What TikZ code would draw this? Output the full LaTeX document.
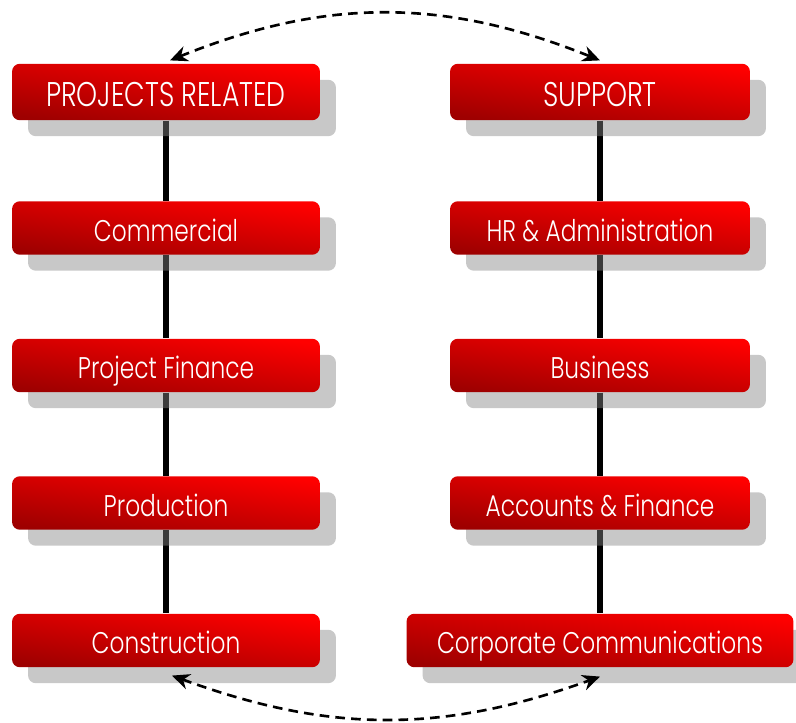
\documentclass[tikz,border=0pt]{standalone}
\usepackage{fontspec}
\setmainfont{Poppins}[UprightFont=* Light, FakeStretch=0.78]
\usetikzlibrary{arrows.meta,shadows,backgrounds}
\tikzset{
  dept/.style={rounded corners=4.5pt, inner sep=0pt, minimum width=6.16cm, minimum height=1.07cm,
    top color=red, bottom color=red!62!black, shading angle=-8, text=white,
    font=\fontsize{17}{20}\selectfont, text height=15.3pt, text depth=0pt,
    drop shadow={shadow xshift=0.32cm, shadow yshift=-0.32cm, fill=black!48, opacity=0.45}},
  head/.style={dept, minimum height=1.13cm, font=\fontsize{19.5}{22}\selectfont, text height=17pt},
  link/.style={line width=3.3pt},
  twoway/.style={line width=1.5pt, dash pattern=on 5.5pt off 3.5pt,
    {Stealth[length=10pt,width=9pt]}-{Stealth[length=10pt,width=9pt]}}
}
\begin{document}
\begin{tikzpicture}[x=0.02cm,y=-0.02cm]
% two columns of departments, coordinates in pixels
\useasboundingbox (0,0) rectangle (796,723);
\node[head] (pr) at (166,92) {PROJECTS RELATED};
\node[dept] (com) at (166,228) {Commercial};
\node[dept] (pf) at (166,365.5) {Project Finance};
\node[dept] (prod) at (166,503) {Production};
\node[dept] (con) at (166,640.5) {Construction};
\node[head, minimum width=6cm] (sup) at (600,92) {SUPPORT};
\node[dept, minimum width=6cm] (hr) at (600,228) {HR \& Administration};
\node[dept, minimum width=6cm] (bus) at (600,365.5) {Business};
\node[dept, minimum width=6cm] (acc) at (600,503) {Accounts \& Finance};
\node[dept, minimum width=7.74cm] (cc) at (600,640.5) {Corporate Communications};
\begin{scope}[on background layer]
\foreach \a/\b in {pr/com,com/pf,pf/prod,prod/con,sup/hr,hr/bus,bus/acc,acc/cc}
  \draw[link] (\a.south) -- (\b.north);
\end{scope}
\draw[twoway] ([shift={(4,-3)}]pr.north) to[bend left=22] ([shift={(0,-3)}]sup.north);
\draw[twoway] ([shift={(6,8)}]con.south) to[bend right=20] ([shift={(0,9)}]cc.south);
\end{tikzpicture}
\end{document}
